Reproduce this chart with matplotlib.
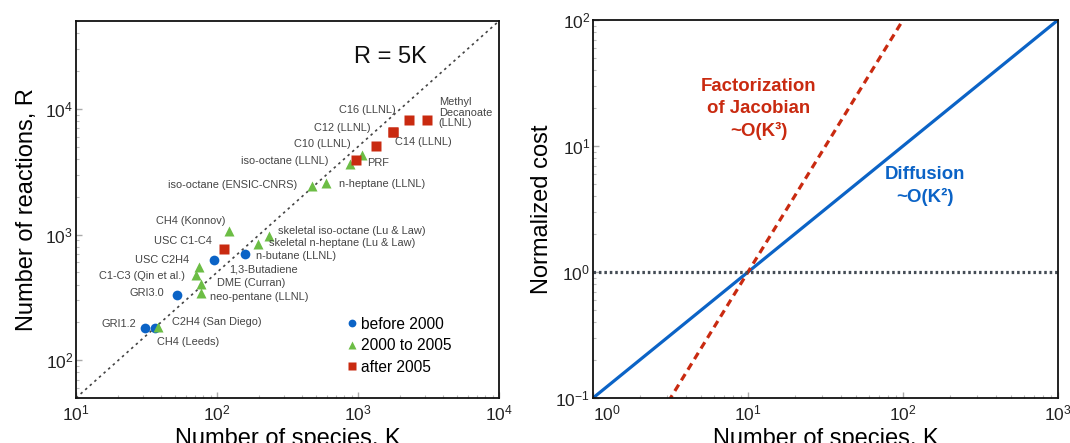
import matplotlib
matplotlib.use("Agg")
import matplotlib.pyplot as plt
from matplotlib.ticker import LogLocator, NullFormatter

plt.rcParams["font.family"] = ["Liberation Sans", "DejaVu Sans"]
plt.rcParams["mathtext.fontset"] = "custom"
plt.rcParams["mathtext.rm"] = "Liberation Sans"
plt.rcParams["mathtext.it"] = "Liberation Sans:italic"
plt.rcParams["mathtext.bf"] = "Liberation Sans:bold"
plt.rcParams["axes.unicode_minus"] = False

# --- left panel: mechanism size ---
early_names = ["GRI1.2", "CH4 (Leeds)", "GRI3.0", "USC C2H4", "n-butane (LLNL)"]
early_k = [31, 36.5, 52.3, 94.7, 159]
early_r = [180, 180, 328, 628, 705]

mid_names = ["C2H4 (San Diego)", "1,3-Butadiene", "C1-C3 (Qin et al.)", "DME (Curran)",
             "neo-pentane (LLNL)", "CH4 (Konnov)", "skeletal n-heptane (Lu & Law)",
             "skeletal iso-octane (Lu & Law)", "iso-octane (ENSIC-CNRS)",
             "n-heptane (LLNL)", "iso-octane (LLNL)", ""]
mid_k = [38.4, 74.7, 70.6, 76.8, 76.8, 122, 195, 232, 470, 594, 873, 1076]
mid_r = [182, 553, 479, 404, 340, 1066, 845, 973, 2415, 2565, 3630, 4300]

late_names = ["USC C1-C4", "PRF", "C10 (LLNL)", "C12 (LLNL)", "C14 (LLNL)",
              "C16 (LLNL)", "Methyl\nDecanoate\n(LLNL)"]
late_k = [112, 975, 1334, 1766, 1766, 2287, 3073]
late_r = [773, 3900, 5070, 6500, 6500, 8220, 8220]

ref_k = [10, 10000]
ref_r = [50, 50000]

# label offsets in pixels (dx, dy, ha)
label_pos = {
    "GRI1.2": (-9, 4, "right"),
    "CH4 (Leeds)": (2, -14, "left"),
    "GRI3.0": (-13, 2, "right"),
    "USC C2H4": (-25, 0, "right"),
    "n-butane (LLNL)": (11, -2, "left"),
    "C2H4 (San Diego)": (14, 5, "left"),
    "1,3-Butadiene": (30, -3, "left"),
    "C1-C3 (Qin et al.)": (-11, -1, "right"),
    "DME (Curran)": (16, 1, "left"),
    "neo-pentane (LLNL)": (9, -4, "left"),
    "CH4 (Konnov)": (-4, 10, "right"),
    "skeletal n-heptane (Lu & Law)": (11, 1, "left"),
    "skeletal iso-octane (Lu & Law)": (9, 5, "left"),
    "iso-octane (ENSIC-CNRS)": (-15, 1, "right"),
    "n-heptane (LLNL)": (13, -1, "left"),
    "iso-octane (LLNL)": (-21, 3, "right"),
    "USC C1-C4": (-12, 8, "right"),
    "PRF": (11, -3, "left"),
    "C10 (LLNL)": (-25, 2, "right"),
    "C12 (LLNL)": (-22, 4, "right"),
    "C14 (LLNL)": (2, -10, "left"),
    "C16 (LLNL)": (-13, 10, "right"),
    "Methyl\nDecanoate\n(LLNL)": (12, 7, "left"),
}

# --- right panel: normalized cost lines ---
k_line = [1, 10, 100, 1000]
diffusion_cost = [0.1, 1, 10, 100]
jacobian_cost = [0.01, 1, 100, 10000]

blue = "#0b63c6"
green = "#6cbd45"
red = "#c92a10"
label_gray = "#444444"

fig = plt.figure(figsize=(10.7, 4.43), dpi=100)
ax1 = fig.add_axes([76 / 1070, 45 / 443, 423 / 1070, 377 / 443])
ax2 = fig.add_axes([593 / 1070, 45 / 443, 465 / 1070, 378 / 443])

ax1.plot(ref_k, ref_r, color="#444444", lw=1.2, linestyle=(0, (1.5, 2.2)), zorder=1)
ax1.plot(early_k, early_r, "o", color=blue, ms=7, mec="none", label="before 2000", zorder=3)
ax1.plot(mid_k, mid_r, "^", color=green, ms=7, mec="none", label="2000 to 2005", zorder=3)
ax1.plot(late_k, late_r, "s", color=red, ms=6.5, mec="none", label="after 2005", zorder=3)

for names, ks, rs in [(early_names, early_k, early_r),
                      (mid_names, mid_k, mid_r),
                      (late_names, late_k, late_r)]:
    for name, k, r in zip(names, ks, rs):
        if name not in label_pos:
            continue
        dx, dy, ha = label_pos[name]
        ax1.annotate(name, (k, r), xytext=(dx, dy), textcoords="offset pixels",
                     ha=ha, va="center", fontsize=7.9, color=label_gray,
                     linespacing=1.1)

ax1.text(0.744, 0.905, "R = 5K", transform=ax1.transAxes, ha="center",
         va="center", fontsize=17, color="#111111")

ax1.set_xscale("log")
ax1.set_yscale("log")
ax1.set_xlim(10, 10000)
ax1.set_ylim(50, 50000)
ax1.set_xlabel("Number of species, K", fontsize=17, labelpad=3)
ax1.set_ylabel("Number of reactions, R", fontsize=17, labelpad=5)
ax1.legend(loc="upper left", bbox_to_anchor=(0.625, 0.236), frameon=False,
           fontsize=11.2, handlelength=0.5, handletextpad=0.3, borderpad=0,
           labelspacing=0.42, markerscale=0.8)

ax2.plot(k_line, diffusion_cost, color=blue, lw=2.3, solid_capstyle="butt")
ax2.plot(k_line, jacobian_cost, color=red, lw=2.3, linestyle=(0, (2.3, 1.6)))
ax2.axhline(1, color="#444c55", lw=2.3, linestyle=(0, (0.8, 0.9)))
ax2.set_xscale("log")
ax2.set_yscale("log")
ax2.set_xlim(1, 1000)
ax2.set_ylim(0.1, 100)
ax2.set_xlabel("Number of species, K", fontsize=17, labelpad=3)
ax2.set_ylabel("Normalized cost", fontsize=17, labelpad=2)

fig.text(759 / 1070, 1 - 109 / 443, "Factorization\nof Jacobian\n~O(K³)",
         ha="center", va="center", fontsize=13.4, fontweight="bold", color=red,
         linespacing=1.4)
fig.text(925 / 1070, 1 - 186 / 443, "Diffusion\n~O(K²)", ha="center", va="center",
         fontsize=13.4, fontweight="bold", color=blue, linespacing=1.4)

for ax in (ax1, ax2):
    for side in ("top", "right", "left", "bottom"):
        ax.spines[side].set_linewidth(1.3)
        ax.spines[side].set_color("#111111")
    ax.xaxis.set_minor_locator(LogLocator(base=10, subs=range(2, 10), numticks=20))
    ax.yaxis.set_minor_locator(LogLocator(base=10, subs=range(2, 10), numticks=20))
    ax.xaxis.set_minor_formatter(NullFormatter())
    ax.yaxis.set_minor_formatter(NullFormatter())
    ax.tick_params(which="major", direction="in", length=4, width=1, color="#aaaaaa",
                   labelsize=12.5, labelcolor="#222222")
    ax.tick_params(which="minor", direction="in", length=2, width=0.8, color="#bbbbbb")
    ax.tick_params(axis="x", which="major", pad=4)
    ax.tick_params(axis="y", which="major", pad=2)

# the 10^0 label on the right panel sits just right of the corner
fig.canvas.draw()
for tick in ax2.xaxis.get_major_ticks():
    if abs(tick.get_loc() - 1) < 1e-9:
        tick.label1.set_horizontalalignment("left")

fig.savefig("out.png", dpi=100)
